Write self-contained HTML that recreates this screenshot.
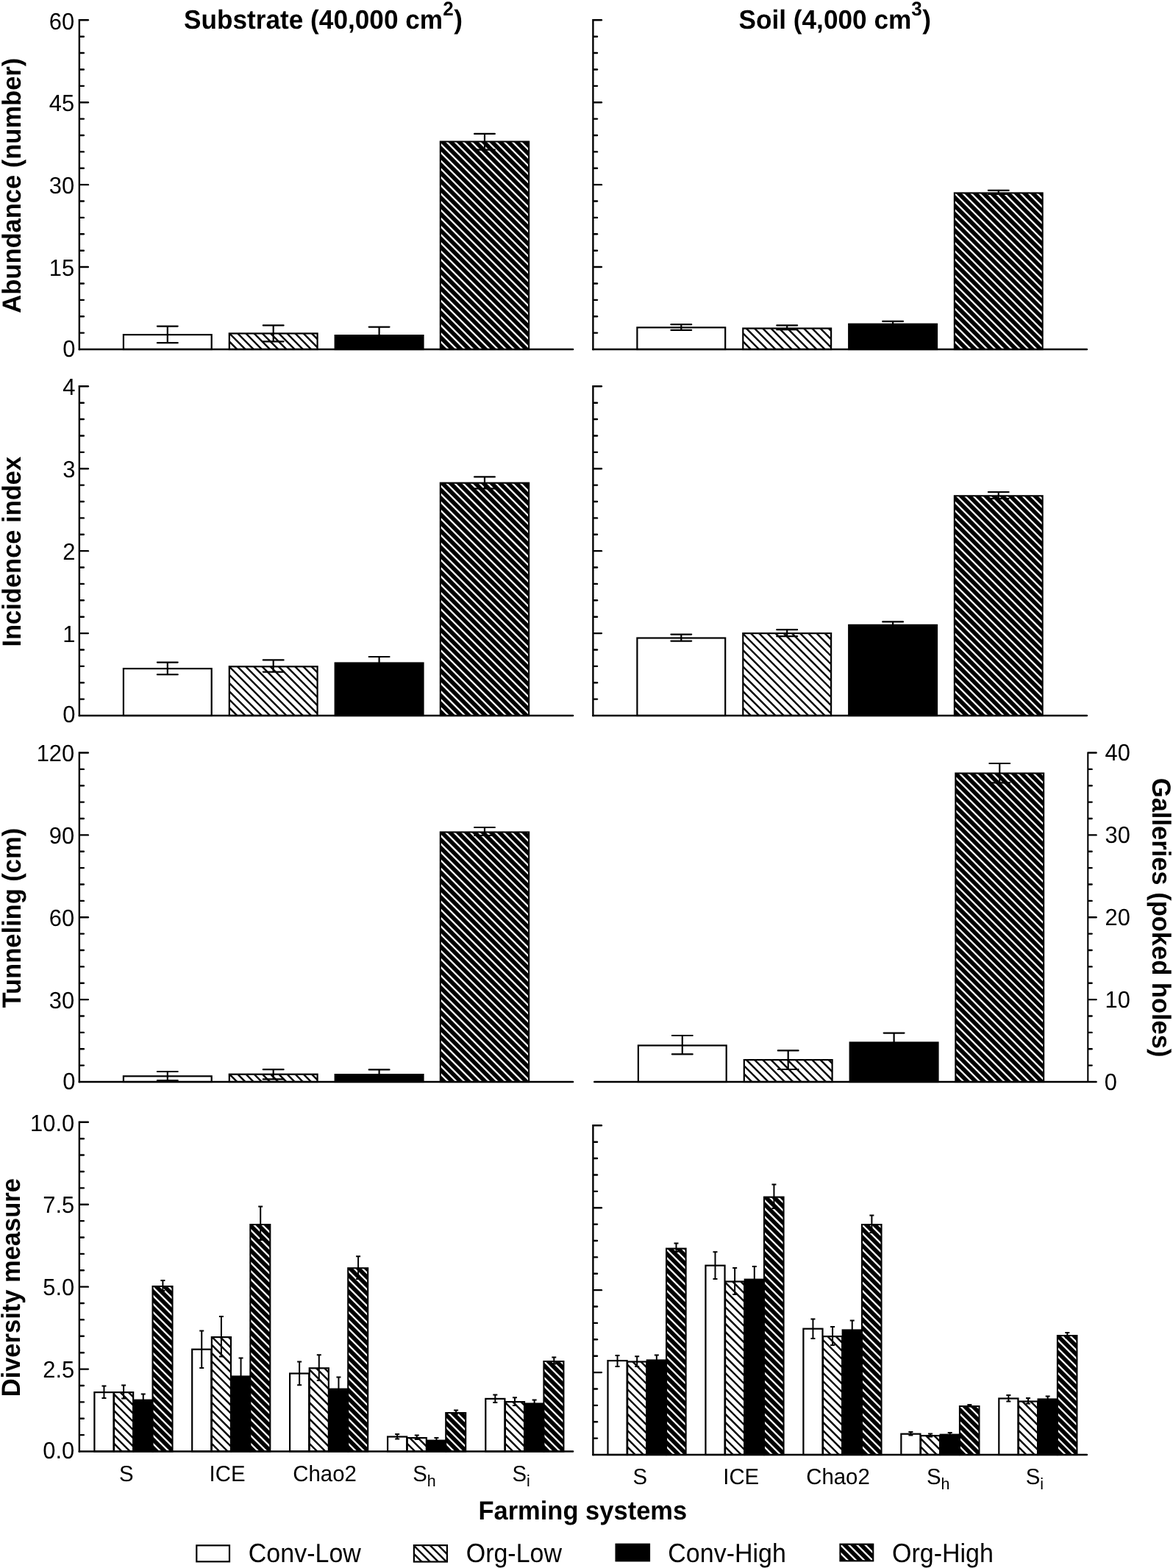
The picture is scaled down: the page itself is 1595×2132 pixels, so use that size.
<!DOCTYPE html>
<html lang="en">
<head>
<meta charset="utf-8">
<title>Farming systems figure</title>
<style>
html,body{margin:0;padding:0;background:#fff;}
body{width:1595px;height:2132px;overflow:hidden;}
svg{display:block;}
svg text{font-family:"Liberation Sans", sans-serif;fill:#000;text-rendering:geometricPrecision;}
</style>
</head>
<body>
<svg width="1595" height="2132" viewBox="0 0 1595 2132">
<rect width="1595" height="2132" fill="#fff"/>
<defs>
<clipPath id="c1"><rect x="311.8" y="453.4" width="119.8" height="21.6"/></clipPath>
<clipPath id="c2"><rect x="599.85" y="193.6" width="118.25" height="280.4"/></clipPath>
<clipPath id="c3"><rect x="1010.3" y="446.5" width="119.8" height="28.5"/></clipPath>
<clipPath id="c4"><rect x="1298.9" y="263.5" width="117.7" height="210.5"/></clipPath>
<clipPath id="c5"><rect x="311.8" y="906.3" width="119.8" height="66.7"/></clipPath>
<clipPath id="c6"><rect x="599.85" y="657.7" width="118.25" height="314.3"/></clipPath>
<clipPath id="c7"><rect x="1010.3" y="861.1" width="119.8" height="111.9"/></clipPath>
<clipPath id="c8"><rect x="1298.9" y="675.3" width="117.7" height="296.7"/></clipPath>
<clipPath id="c9"><rect x="311.8" y="1460.7" width="119.8" height="10.3"/></clipPath>
<clipPath id="c10"><rect x="599.85" y="1132.5" width="118.25" height="337.5"/></clipPath>
<clipPath id="c11"><rect x="1011.8" y="1441.1" width="119.8" height="29.9"/></clipPath>
<clipPath id="c12"><rect x="1300.4" y="1052.5" width="117.7" height="417.5"/></clipPath>
<clipPath id="c13"><rect x="155.05" y="1893.1" width="26.1" height="80.4"/></clipPath>
<clipPath id="c14"><rect x="208.6" y="1750.1" width="24.85" height="222.4"/></clipPath>
<clipPath id="c15"><rect x="287.85" y="1818.1" width="26.1" height="155.4"/></clipPath>
<clipPath id="c16"><rect x="341.4" y="1666.1" width="24.85" height="306.4"/></clipPath>
<clipPath id="c17"><rect x="420.75" y="1860.3" width="26.1" height="113.2"/></clipPath>
<clipPath id="c18"><rect x="474.3" y="1725.3" width="24.85" height="247.2"/></clipPath>
<clipPath id="c19"><rect x="553.75" y="1955.1" width="26.1" height="18.4"/></clipPath>
<clipPath id="c20"><rect x="607.3" y="1922.1" width="24.85" height="50.4"/></clipPath>
<clipPath id="c21"><rect x="686.95" y="1906.1" width="26.1" height="67.4"/></clipPath>
<clipPath id="c22"><rect x="740.5" y="1852.1" width="24.85" height="120.4"/></clipPath>
<clipPath id="c23"><rect x="853.15" y="1851.5" width="26.1" height="126.5"/></clipPath>
<clipPath id="c24"><rect x="907.15" y="1698.7" width="24.4" height="278.3"/></clipPath>
<clipPath id="c25"><rect x="986.1" y="1742.5" width="26.1" height="235.5"/></clipPath>
<clipPath id="c26"><rect x="1040.1" y="1628.7" width="24.4" height="348.3"/></clipPath>
<clipPath id="c27"><rect x="1119.05" y="1817.1" width="26.1" height="160.9"/></clipPath>
<clipPath id="c28"><rect x="1173.05" y="1666.1" width="24.4" height="310.9"/></clipPath>
<clipPath id="c29"><rect x="1252" y="1952.1" width="26.1" height="25.9"/></clipPath>
<clipPath id="c30"><rect x="1306" y="1913.1" width="24.4" height="63.9"/></clipPath>
<clipPath id="c31"><rect x="1384.95" y="1905.5" width="26.1" height="72.5"/></clipPath>
<clipPath id="c32"><rect x="1438.95" y="1817.1" width="24.4" height="159.9"/></clipPath>
<clipPath id="c33"><rect x="562.9" y="2101.1" width="45" height="22.4"/></clipPath>
<clipPath id="c34"><rect x="1143.5" y="2100.7" width="42.7" height="20.6"/></clipPath>
</defs>
<rect x="167.9" y="455.1" width="119.8" height="19.9" fill="#fff" stroke="#000" stroke-width="2.2"/>
<rect x="311.8" y="453.4" width="119.8" height="21.6" fill="#fff"/>
<path clip-path="url(#c1)" d="M307.8 471.55L315.25 479M307.8 460.37L326.44 479M308.02 449.4L337.62 479M319.21 449.4L348.81 479M330.39 449.4L359.99 479M341.58 449.4L371.18 479M352.76 449.4L382.36 479M363.95 449.4L393.55 479M375.13 449.4L404.73 479M386.32 449.4L415.92 479M397.5 449.4L427.1 479M408.69 449.4L435.6 476.31M419.87 449.4L435.6 465.13M431.06 449.4L435.6 453.94" stroke="#000" stroke-width="2.4" fill="none"/>
<rect x="311.8" y="453.4" width="119.8" height="21.6" fill="none" stroke="#000" stroke-width="2.2"/>
<rect x="455.7" y="456.1" width="119.8" height="18.9" fill="#000" stroke="#000" stroke-width="2.2"/>
<rect x="598.85" y="192.6" width="120.25" height="282.4" fill="#000" stroke="#000" stroke-width="2.2"/>
<path clip-path="url(#c2)" d="M594.85 471.15L602.7 479M594.85 459.97L613.88 479M594.85 448.78L625.07 479M594.85 437.6L636.25 479M594.85 426.41L647.44 479M594.85 415.23L658.62 479M594.85 404.04L669.81 479M594.85 392.86L681 479M594.85 381.67L692.18 479M594.85 370.49L703.37 479M594.85 359.3L714.55 479M594.85 348.12L723.1 476.37M594.85 336.93L723.1 465.18M594.85 325.75L723.1 454M594.85 314.56L723.1 442.81M594.85 303.38L723.1 431.62M594.85 292.19L723.1 420.44M594.85 281L723.1 409.25M594.85 269.82L723.1 398.07M594.85 258.63L723.1 386.88M594.85 247.45L723.1 375.7M594.85 236.26L723.1 364.51M594.85 225.08L723.1 353.33M594.85 213.9L723.1 342.15M594.85 202.71L723.1 330.96M594.85 191.53L723.1 319.77M603.11 188.6L723.1 308.59M614.29 188.6L723.1 297.41M625.48 188.6L723.1 286.22M636.66 188.6L723.1 275.03M647.85 188.6L723.1 263.85M659.03 188.6L723.1 252.67M670.22 188.6L723.1 241.48M681.4 188.6L723.1 230.29M692.59 188.6L723.1 219.11M703.78 188.6L723.1 207.92M714.96 188.6L723.1 196.74" stroke="#fff" stroke-width="2.3" fill="none"/>
<path d="M213.9 443.6H241.7M227.8 443.6V466.2M213.9 466.2H241.7" stroke="#000" stroke-width="2.2" stroke-linecap="round" fill="none"/>
<path d="M357.8 442.4H385.6M371.7 442.4V464.3M357.8 464.3H385.6" stroke="#000" stroke-width="2.2" stroke-linecap="round" fill="none"/>
<path d="M501.7 444.6H529.5M515.6 444.6V456" stroke="#000" stroke-width="2.2" stroke-linecap="round" fill="none"/>
<path d="M645.08 181.9H672.88M658.98 181.9V203.6M645.08 203.6H672.88" stroke="#000" stroke-width="2.2" stroke-linecap="round" fill="none"/>
<rect x="866.4" y="445.3" width="119.8" height="29.7" fill="#fff" stroke="#000" stroke-width="2.2"/>
<rect x="1010.3" y="446.5" width="119.8" height="28.5" fill="#fff"/>
<path clip-path="url(#c3)" d="M1006.3 471.55L1013.75 479M1006.3 460.37L1024.93 479M1006.3 449.18L1036.12 479M1010.8 442.5L1047.3 479M1021.99 442.5L1058.49 479M1033.17 442.5L1069.67 479M1044.36 442.5L1080.86 479M1055.54 442.5L1092.04 479M1066.73 442.5L1103.23 479M1077.91 442.5L1114.41 479M1089.1 442.5L1125.6 479M1100.28 442.5L1134.1 476.32M1111.47 442.5L1134.1 465.13M1122.65 442.5L1134.1 453.95M1133.84 442.5L1134.1 442.76" stroke="#000" stroke-width="2.4" fill="none"/>
<rect x="1010.3" y="446.5" width="119.8" height="28.5" fill="none" stroke="#000" stroke-width="2.2"/>
<rect x="1154.2" y="440.7" width="119.8" height="34.3" fill="#000" stroke="#000" stroke-width="2.2"/>
<rect x="1297.9" y="262.5" width="119.7" height="212.5" fill="#000" stroke="#000" stroke-width="2.2"/>
<path clip-path="url(#c4)" d="M1293.9 471.15L1301.75 479M1293.9 459.96L1312.93 479M1293.9 448.78L1324.12 479M1293.9 437.6L1335.3 479M1293.9 426.41L1346.49 479M1293.9 415.22L1357.67 479M1293.9 404.04L1368.86 479M1293.9 392.85L1380.05 479M1293.9 381.67L1391.23 479M1293.9 370.48L1402.41 479M1293.9 359.3L1413.6 479M1293.9 348.12L1421.6 475.82M1293.9 336.93L1421.6 464.63M1293.9 325.74L1421.6 453.44M1293.9 314.56L1421.6 442.26M1293.9 303.37L1421.6 431.07M1293.9 292.19L1421.6 419.89M1293.9 281L1421.6 408.7M1293.9 269.82L1421.6 397.52M1293.9 258.63L1421.6 386.33M1304.95 258.5L1421.6 375.15M1316.13 258.5L1421.6 363.96M1327.32 258.5L1421.6 352.78M1338.51 258.5L1421.6 341.59M1349.69 258.5L1421.6 330.41M1360.88 258.5L1421.6 319.22M1372.06 258.5L1421.6 308.04M1383.24 258.5L1421.6 296.86M1394.43 258.5L1421.6 285.67M1405.62 258.5L1421.6 274.48M1416.8 258.5L1421.6 263.3" stroke="#fff" stroke-width="2.3" fill="none"/>
<path d="M912.4 441.2H940.2M926.3 441.2V448.8M912.4 448.8H940.2" stroke="#000" stroke-width="2.2" stroke-linecap="round" fill="none"/>
<path d="M1056.3 442.4H1084.1M1070.2 442.4V448.2M1056.3 448.2H1084.1" stroke="#000" stroke-width="2.2" stroke-linecap="round" fill="none"/>
<path d="M1200.2 436.8H1228M1214.1 436.8V440.6" stroke="#000" stroke-width="2.2" stroke-linecap="round" fill="none"/>
<path d="M1343.85 258.8H1371.65M1357.75 258.8V264M1343.85 264H1371.65" stroke="#000" stroke-width="2.2" stroke-linecap="round" fill="none"/>
<line x1="107.85" y1="475" x2="779.1" y2="475" stroke="#000" stroke-width="2.4" stroke-linecap="round"/>
<line x1="806.4" y1="475" x2="1477.9" y2="475" stroke="#000" stroke-width="2.4" stroke-linecap="round"/>
<line x1="107.85" y1="27.3" x2="107.85" y2="475" stroke="#000" stroke-width="2.4" stroke-linecap="square"/>
<line x1="109.05" y1="27.3" x2="119.85" y2="27.3" stroke="#000" stroke-width="2.4" stroke-linecap="round"/>
<line x1="109.05" y1="49.69" x2="113.85" y2="49.69" stroke="#000" stroke-width="2.4" stroke-linecap="round"/>
<line x1="109.05" y1="72.07" x2="113.85" y2="72.07" stroke="#000" stroke-width="2.4" stroke-linecap="round"/>
<line x1="109.05" y1="94.45" x2="113.85" y2="94.45" stroke="#000" stroke-width="2.4" stroke-linecap="round"/>
<line x1="109.05" y1="116.84" x2="113.85" y2="116.84" stroke="#000" stroke-width="2.4" stroke-linecap="round"/>
<line x1="109.05" y1="139.22" x2="119.85" y2="139.22" stroke="#000" stroke-width="2.4" stroke-linecap="round"/>
<line x1="109.05" y1="161.61" x2="113.85" y2="161.61" stroke="#000" stroke-width="2.4" stroke-linecap="round"/>
<line x1="109.05" y1="184" x2="113.85" y2="184" stroke="#000" stroke-width="2.4" stroke-linecap="round"/>
<line x1="109.05" y1="206.38" x2="113.85" y2="206.38" stroke="#000" stroke-width="2.4" stroke-linecap="round"/>
<line x1="109.05" y1="228.76" x2="113.85" y2="228.76" stroke="#000" stroke-width="2.4" stroke-linecap="round"/>
<line x1="109.05" y1="251.15" x2="119.85" y2="251.15" stroke="#000" stroke-width="2.4" stroke-linecap="round"/>
<line x1="109.05" y1="273.53" x2="113.85" y2="273.53" stroke="#000" stroke-width="2.4" stroke-linecap="round"/>
<line x1="109.05" y1="295.92" x2="113.85" y2="295.92" stroke="#000" stroke-width="2.4" stroke-linecap="round"/>
<line x1="109.05" y1="318.31" x2="113.85" y2="318.31" stroke="#000" stroke-width="2.4" stroke-linecap="round"/>
<line x1="109.05" y1="340.69" x2="113.85" y2="340.69" stroke="#000" stroke-width="2.4" stroke-linecap="round"/>
<line x1="109.05" y1="363.07" x2="119.85" y2="363.07" stroke="#000" stroke-width="2.4" stroke-linecap="round"/>
<line x1="109.05" y1="385.46" x2="113.85" y2="385.46" stroke="#000" stroke-width="2.4" stroke-linecap="round"/>
<line x1="109.05" y1="407.84" x2="113.85" y2="407.84" stroke="#000" stroke-width="2.4" stroke-linecap="round"/>
<line x1="109.05" y1="430.23" x2="113.85" y2="430.23" stroke="#000" stroke-width="2.4" stroke-linecap="round"/>
<line x1="109.05" y1="452.61" x2="113.85" y2="452.61" stroke="#000" stroke-width="2.4" stroke-linecap="round"/>
<text transform="translate(101.2 39.9) scale(0.9709 1)" font-size="31.83" text-anchor="end">60</text>
<text transform="translate(101.2 151.03) scale(0.9709 1)" font-size="31.83" text-anchor="end">45</text>
<text transform="translate(101.2 262.85) scale(0.9709 1)" font-size="31.83" text-anchor="end">30</text>
<text transform="translate(101.2 374.88) scale(0.9709 1)" font-size="31.83" text-anchor="end">15</text>
<text transform="translate(102.4 484.5) scale(0.9709 1)" font-size="31.83" text-anchor="end">0</text>
<line x1="806.4" y1="27.3" x2="806.4" y2="475" stroke="#000" stroke-width="2.4" stroke-linecap="square"/>
<line x1="807.6" y1="27.3" x2="817.9" y2="27.3" stroke="#000" stroke-width="2.4" stroke-linecap="round"/>
<line x1="807.6" y1="49.69" x2="812" y2="49.69" stroke="#000" stroke-width="2.4" stroke-linecap="round"/>
<line x1="807.6" y1="72.07" x2="812" y2="72.07" stroke="#000" stroke-width="2.4" stroke-linecap="round"/>
<line x1="807.6" y1="94.45" x2="812" y2="94.45" stroke="#000" stroke-width="2.4" stroke-linecap="round"/>
<line x1="807.6" y1="116.84" x2="812" y2="116.84" stroke="#000" stroke-width="2.4" stroke-linecap="round"/>
<line x1="807.6" y1="139.22" x2="817.9" y2="139.22" stroke="#000" stroke-width="2.4" stroke-linecap="round"/>
<line x1="807.6" y1="161.61" x2="812" y2="161.61" stroke="#000" stroke-width="2.4" stroke-linecap="round"/>
<line x1="807.6" y1="184" x2="812" y2="184" stroke="#000" stroke-width="2.4" stroke-linecap="round"/>
<line x1="807.6" y1="206.38" x2="812" y2="206.38" stroke="#000" stroke-width="2.4" stroke-linecap="round"/>
<line x1="807.6" y1="228.76" x2="812" y2="228.76" stroke="#000" stroke-width="2.4" stroke-linecap="round"/>
<line x1="807.6" y1="251.15" x2="817.9" y2="251.15" stroke="#000" stroke-width="2.4" stroke-linecap="round"/>
<line x1="807.6" y1="273.53" x2="812" y2="273.53" stroke="#000" stroke-width="2.4" stroke-linecap="round"/>
<line x1="807.6" y1="295.92" x2="812" y2="295.92" stroke="#000" stroke-width="2.4" stroke-linecap="round"/>
<line x1="807.6" y1="318.31" x2="812" y2="318.31" stroke="#000" stroke-width="2.4" stroke-linecap="round"/>
<line x1="807.6" y1="340.69" x2="812" y2="340.69" stroke="#000" stroke-width="2.4" stroke-linecap="round"/>
<line x1="807.6" y1="363.07" x2="817.9" y2="363.07" stroke="#000" stroke-width="2.4" stroke-linecap="round"/>
<line x1="807.6" y1="385.46" x2="812" y2="385.46" stroke="#000" stroke-width="2.4" stroke-linecap="round"/>
<line x1="807.6" y1="407.84" x2="812" y2="407.84" stroke="#000" stroke-width="2.4" stroke-linecap="round"/>
<line x1="807.6" y1="430.23" x2="812" y2="430.23" stroke="#000" stroke-width="2.4" stroke-linecap="round"/>
<line x1="807.6" y1="452.61" x2="812" y2="452.61" stroke="#000" stroke-width="2.4" stroke-linecap="round"/>
<rect x="167.9" y="909.1" width="119.8" height="63.9" fill="#fff" stroke="#000" stroke-width="2.2"/>
<rect x="311.8" y="906.3" width="119.8" height="66.7" fill="#fff"/>
<path clip-path="url(#c5)" d="M307.8 969.55L315.25 977M307.8 958.37L326.43 977M307.8 947.18L337.62 977M307.8 936L348.8 977M307.8 924.81L359.99 977M307.8 913.63L371.17 977M307.8 902.44L382.36 977M318.85 902.3L393.54 977M330.03 902.3L404.73 977M341.22 902.3L415.91 977M352.4 902.3L427.1 977M363.59 902.3L435.6 974.32M374.77 902.3L435.6 963.13M385.96 902.3L435.6 951.95M397.14 902.3L435.6 940.76M408.33 902.3L435.6 929.58M419.51 902.3L435.6 918.39M430.7 902.3L435.6 907.21" stroke="#000" stroke-width="2.4" fill="none"/>
<rect x="311.8" y="906.3" width="119.8" height="66.7" fill="none" stroke="#000" stroke-width="2.2"/>
<rect x="455.7" y="901.5" width="119.8" height="71.5" fill="#000" stroke="#000" stroke-width="2.2"/>
<rect x="598.85" y="656.7" width="120.25" height="316.3" fill="#000" stroke="#000" stroke-width="2.2"/>
<path clip-path="url(#c6)" d="M594.85 969.15L602.7 977M594.85 957.97L613.88 977M594.85 946.78L625.07 977M594.85 935.6L636.25 977M594.85 924.41L647.44 977M594.85 913.23L658.62 977M594.85 902.04L669.81 977M594.85 890.86L681 977M594.85 879.67L692.18 977M594.85 868.49L703.37 977M594.85 857.3L714.55 977M594.85 846.12L723.1 974.37M594.85 834.93L723.1 963.18M594.85 823.75L723.1 952M594.85 812.56L723.1 940.81M594.85 801.38L723.1 929.62M594.85 790.19L723.1 918.44M594.85 779L723.1 907.25M594.85 767.82L723.1 896.07M594.85 756.63L723.1 884.88M594.85 745.45L723.1 873.7M594.85 734.26L723.1 862.51M594.85 723.08L723.1 851.33M594.85 711.9L723.1 840.15M594.85 700.71L723.1 828.96M594.85 689.52L723.1 817.77M594.85 678.34L723.1 806.59M594.85 667.16L723.1 795.41M594.85 655.97L723.1 784.22M602.77 652.7L723.1 773.03M613.95 652.7L723.1 761.85M625.13 652.7L723.1 750.67M636.32 652.7L723.1 739.48M647.51 652.7L723.1 728.29M658.69 652.7L723.1 717.11M669.88 652.7L723.1 705.93M681.06 652.7L723.1 694.74M692.25 652.7L723.1 683.55M703.43 652.7L723.1 672.37M714.62 652.7L723.1 661.19" stroke="#fff" stroke-width="2.3" fill="none"/>
<path d="M213.9 900.6H241.7M227.8 900.6V917.2M213.9 917.2H241.7" stroke="#000" stroke-width="2.2" stroke-linecap="round" fill="none"/>
<path d="M357.8 897.4H385.6M371.7 897.4V913.6M357.8 913.6H385.6" stroke="#000" stroke-width="2.2" stroke-linecap="round" fill="none"/>
<path d="M501.7 893H529.5M515.6 893V901.4" stroke="#000" stroke-width="2.2" stroke-linecap="round" fill="none"/>
<path d="M645.08 648.4H672.88M658.98 648.4V664.4M645.08 664.4H672.88" stroke="#000" stroke-width="2.2" stroke-linecap="round" fill="none"/>
<rect x="866.4" y="867.5" width="119.8" height="105.5" fill="#fff" stroke="#000" stroke-width="2.2"/>
<rect x="1010.3" y="861.1" width="119.8" height="111.9" fill="#fff"/>
<path clip-path="url(#c7)" d="M1006.3 969.55L1013.75 977M1006.3 958.37L1024.93 977M1006.3 947.18L1036.12 977M1006.3 936L1047.3 977M1006.3 924.81L1058.49 977M1006.3 913.62L1069.67 977M1006.3 902.44L1080.86 977M1006.3 891.25L1092.04 977M1006.3 880.07L1103.23 977M1006.3 868.88L1114.41 977M1006.3 857.7L1125.6 977M1016.88 857.1L1134.1 974.32M1028.07 857.1L1134.1 963.13M1039.25 857.1L1134.1 951.94M1050.44 857.1L1134.1 940.76M1061.62 857.1L1134.1 929.58M1072.81 857.1L1134.1 918.39M1083.99 857.1L1134.1 907.2M1095.18 857.1L1134.1 896.02M1106.37 857.1L1134.1 884.84M1117.55 857.1L1134.1 873.65M1128.73 857.1L1134.1 862.46" stroke="#000" stroke-width="2.4" fill="none"/>
<rect x="1010.3" y="861.1" width="119.8" height="111.9" fill="none" stroke="#000" stroke-width="2.2"/>
<rect x="1154.2" y="849.9" width="119.8" height="123.1" fill="#000" stroke="#000" stroke-width="2.2"/>
<rect x="1297.9" y="674.3" width="119.7" height="298.7" fill="#000" stroke="#000" stroke-width="2.2"/>
<path clip-path="url(#c8)" d="M1293.9 969.15L1301.75 977M1293.9 957.96L1312.93 977M1293.9 946.78L1324.12 977M1293.9 935.59L1335.3 977M1293.9 924.41L1346.49 977M1293.9 913.23L1357.67 977M1293.9 902.04L1368.86 977M1293.9 890.85L1380.05 977M1293.9 879.67L1391.23 977M1293.9 868.48L1402.41 977M1293.9 857.3L1413.6 977M1293.9 846.11L1421.6 973.82M1293.9 834.93L1421.6 962.63M1293.9 823.75L1421.6 951.44M1293.9 812.56L1421.6 940.26M1293.9 801.37L1421.6 929.07M1293.9 790.19L1421.6 917.89M1293.9 779L1421.6 906.7M1293.9 767.82L1421.6 895.52M1293.9 756.63L1421.6 884.34M1293.9 745.45L1421.6 873.15M1293.9 734.26L1421.6 861.96M1293.9 723.08L1421.6 850.78M1293.9 711.9L1421.6 839.6M1293.9 700.71L1421.6 828.41M1293.9 689.52L1421.6 817.22M1293.9 678.34L1421.6 806.04M1297.05 670.3L1421.6 794.86M1308.23 670.3L1421.6 783.67M1319.41 670.3L1421.6 772.48M1330.6 670.3L1421.6 761.3M1341.78 670.3L1421.6 750.12M1352.97 670.3L1421.6 738.93M1364.16 670.3L1421.6 727.74M1375.34 670.3L1421.6 716.56M1386.53 670.3L1421.6 705.38M1397.71 670.3L1421.6 694.19M1408.89 670.3L1421.6 683M1420.08 670.3L1421.6 671.82" stroke="#fff" stroke-width="2.3" fill="none"/>
<path d="M912.4 862.6H940.2M926.3 862.6V871.6M912.4 871.6H940.2" stroke="#000" stroke-width="2.2" stroke-linecap="round" fill="none"/>
<path d="M1056.3 856.2H1084.1M1070.2 856.2V865.2M1056.3 865.2H1084.1" stroke="#000" stroke-width="2.2" stroke-linecap="round" fill="none"/>
<path d="M1200.2 845.4H1228M1214.1 845.4V849.8" stroke="#000" stroke-width="2.2" stroke-linecap="round" fill="none"/>
<path d="M1343.85 669H1371.65M1357.75 669V678M1343.85 678H1371.65" stroke="#000" stroke-width="2.2" stroke-linecap="round" fill="none"/>
<line x1="107.85" y1="973" x2="779.1" y2="973" stroke="#000" stroke-width="2.4" stroke-linecap="round"/>
<line x1="806.4" y1="973" x2="1477.9" y2="973" stroke="#000" stroke-width="2.4" stroke-linecap="round"/>
<line x1="107.85" y1="525.3" x2="107.85" y2="973" stroke="#000" stroke-width="2.4" stroke-linecap="square"/>
<line x1="109.05" y1="525.3" x2="119.85" y2="525.3" stroke="#000" stroke-width="2.4" stroke-linecap="round"/>
<line x1="109.05" y1="547.68" x2="113.85" y2="547.68" stroke="#000" stroke-width="2.4" stroke-linecap="round"/>
<line x1="109.05" y1="570.07" x2="113.85" y2="570.07" stroke="#000" stroke-width="2.4" stroke-linecap="round"/>
<line x1="109.05" y1="592.45" x2="113.85" y2="592.45" stroke="#000" stroke-width="2.4" stroke-linecap="round"/>
<line x1="109.05" y1="614.84" x2="113.85" y2="614.84" stroke="#000" stroke-width="2.4" stroke-linecap="round"/>
<line x1="109.05" y1="637.22" x2="119.85" y2="637.22" stroke="#000" stroke-width="2.4" stroke-linecap="round"/>
<line x1="109.05" y1="659.61" x2="113.85" y2="659.61" stroke="#000" stroke-width="2.4" stroke-linecap="round"/>
<line x1="109.05" y1="682" x2="113.85" y2="682" stroke="#000" stroke-width="2.4" stroke-linecap="round"/>
<line x1="109.05" y1="704.38" x2="113.85" y2="704.38" stroke="#000" stroke-width="2.4" stroke-linecap="round"/>
<line x1="109.05" y1="726.76" x2="113.85" y2="726.76" stroke="#000" stroke-width="2.4" stroke-linecap="round"/>
<line x1="109.05" y1="749.15" x2="119.85" y2="749.15" stroke="#000" stroke-width="2.4" stroke-linecap="round"/>
<line x1="109.05" y1="771.53" x2="113.85" y2="771.53" stroke="#000" stroke-width="2.4" stroke-linecap="round"/>
<line x1="109.05" y1="793.92" x2="113.85" y2="793.92" stroke="#000" stroke-width="2.4" stroke-linecap="round"/>
<line x1="109.05" y1="816.3" x2="113.85" y2="816.3" stroke="#000" stroke-width="2.4" stroke-linecap="round"/>
<line x1="109.05" y1="838.69" x2="113.85" y2="838.69" stroke="#000" stroke-width="2.4" stroke-linecap="round"/>
<line x1="109.05" y1="861.08" x2="119.85" y2="861.08" stroke="#000" stroke-width="2.4" stroke-linecap="round"/>
<line x1="109.05" y1="883.46" x2="113.85" y2="883.46" stroke="#000" stroke-width="2.4" stroke-linecap="round"/>
<line x1="109.05" y1="905.85" x2="113.85" y2="905.85" stroke="#000" stroke-width="2.4" stroke-linecap="round"/>
<line x1="109.05" y1="928.23" x2="113.85" y2="928.23" stroke="#000" stroke-width="2.4" stroke-linecap="round"/>
<line x1="109.05" y1="950.62" x2="113.85" y2="950.62" stroke="#000" stroke-width="2.4" stroke-linecap="round"/>
<text transform="translate(102.4 536.9) scale(0.9709 1)" font-size="31.83" text-anchor="end">4</text>
<text transform="translate(102.4 648.92) scale(0.9709 1)" font-size="31.83" text-anchor="end">3</text>
<text transform="translate(102.4 760.75) scale(0.9709 1)" font-size="31.83" text-anchor="end">2</text>
<text transform="translate(102.4 872.58) scale(0.9709 1)" font-size="31.83" text-anchor="end">1</text>
<text transform="translate(102.4 981.7) scale(0.9709 1)" font-size="31.83" text-anchor="end">0</text>
<line x1="806.4" y1="525.3" x2="806.4" y2="973" stroke="#000" stroke-width="2.4" stroke-linecap="square"/>
<line x1="807.6" y1="525.3" x2="817.9" y2="525.3" stroke="#000" stroke-width="2.4" stroke-linecap="round"/>
<line x1="807.6" y1="547.68" x2="812" y2="547.68" stroke="#000" stroke-width="2.4" stroke-linecap="round"/>
<line x1="807.6" y1="570.07" x2="812" y2="570.07" stroke="#000" stroke-width="2.4" stroke-linecap="round"/>
<line x1="807.6" y1="592.45" x2="812" y2="592.45" stroke="#000" stroke-width="2.4" stroke-linecap="round"/>
<line x1="807.6" y1="614.84" x2="812" y2="614.84" stroke="#000" stroke-width="2.4" stroke-linecap="round"/>
<line x1="807.6" y1="637.22" x2="817.9" y2="637.22" stroke="#000" stroke-width="2.4" stroke-linecap="round"/>
<line x1="807.6" y1="659.61" x2="812" y2="659.61" stroke="#000" stroke-width="2.4" stroke-linecap="round"/>
<line x1="807.6" y1="682" x2="812" y2="682" stroke="#000" stroke-width="2.4" stroke-linecap="round"/>
<line x1="807.6" y1="704.38" x2="812" y2="704.38" stroke="#000" stroke-width="2.4" stroke-linecap="round"/>
<line x1="807.6" y1="726.76" x2="812" y2="726.76" stroke="#000" stroke-width="2.4" stroke-linecap="round"/>
<line x1="807.6" y1="749.15" x2="817.9" y2="749.15" stroke="#000" stroke-width="2.4" stroke-linecap="round"/>
<line x1="807.6" y1="771.53" x2="812" y2="771.53" stroke="#000" stroke-width="2.4" stroke-linecap="round"/>
<line x1="807.6" y1="793.92" x2="812" y2="793.92" stroke="#000" stroke-width="2.4" stroke-linecap="round"/>
<line x1="807.6" y1="816.3" x2="812" y2="816.3" stroke="#000" stroke-width="2.4" stroke-linecap="round"/>
<line x1="807.6" y1="838.69" x2="812" y2="838.69" stroke="#000" stroke-width="2.4" stroke-linecap="round"/>
<line x1="807.6" y1="861.08" x2="817.9" y2="861.08" stroke="#000" stroke-width="2.4" stroke-linecap="round"/>
<line x1="807.6" y1="883.46" x2="812" y2="883.46" stroke="#000" stroke-width="2.4" stroke-linecap="round"/>
<line x1="807.6" y1="905.85" x2="812" y2="905.85" stroke="#000" stroke-width="2.4" stroke-linecap="round"/>
<line x1="807.6" y1="928.23" x2="812" y2="928.23" stroke="#000" stroke-width="2.4" stroke-linecap="round"/>
<line x1="807.6" y1="950.62" x2="812" y2="950.62" stroke="#000" stroke-width="2.4" stroke-linecap="round"/>
<rect x="167.9" y="1463.3" width="119.8" height="7.7" fill="#fff" stroke="#000" stroke-width="2.2"/>
<rect x="311.8" y="1460.7" width="119.8" height="10.3" fill="#fff"/>
<path clip-path="url(#c9)" d="M307.8 1467.55L315.25 1475M308.13 1456.7L326.43 1475M319.32 1456.7L337.62 1475M330.5 1456.7L348.81 1475M341.69 1456.7L359.99 1475M352.87 1456.7L371.17 1475M364.06 1456.7L382.36 1475M375.24 1456.7L393.55 1475M386.43 1456.7L404.73 1475M397.61 1456.7L415.91 1475M408.8 1456.7L427.1 1475M419.98 1456.7L435.6 1472.32M431.17 1456.7L435.6 1461.13" stroke="#000" stroke-width="2.4" fill="none"/>
<rect x="311.8" y="1460.7" width="119.8" height="10.3" fill="none" stroke="#000" stroke-width="2.2"/>
<rect x="455.7" y="1461.1" width="119.8" height="9.9" fill="#000" stroke="#000" stroke-width="2.2"/>
<rect x="598.85" y="1131.5" width="120.25" height="339.5" fill="#000" stroke="#000" stroke-width="2.2"/>
<path clip-path="url(#c10)" d="M594.85 1467.15L602.7 1475M594.85 1455.97L613.88 1475M594.85 1444.78L625.07 1475M594.85 1433.6L636.25 1475M594.85 1422.41L647.44 1475M594.85 1411.22L658.62 1475M594.85 1400.04L669.81 1475M594.85 1388.86L681 1475M594.85 1377.67L692.18 1475M594.85 1366.49L703.37 1475M594.85 1355.3L714.55 1475M594.85 1344.12L723.1 1472.37M594.85 1332.93L723.1 1461.18M594.85 1321.74L723.1 1449.99M594.85 1310.56L723.1 1438.81M594.85 1299.38L723.1 1427.62M594.85 1288.19L723.1 1416.44M594.85 1277.01L723.1 1405.26M594.85 1265.82L723.1 1394.07M594.85 1254.63L723.1 1382.88M594.85 1243.45L723.1 1371.7M594.85 1232.26L723.1 1360.51M594.85 1221.08L723.1 1349.33M594.85 1209.89L723.1 1338.14M594.85 1198.71L723.1 1326.96M594.85 1187.53L723.1 1315.78M594.85 1176.34L723.1 1304.59M594.85 1165.15L723.1 1293.4M594.85 1153.97L723.1 1282.22M594.85 1142.78L723.1 1271.03M594.85 1131.6L723.1 1259.85M601.94 1127.5L723.1 1248.66M613.12 1127.5L723.1 1237.48M624.31 1127.5L723.1 1226.3M635.49 1127.5L723.1 1215.11M646.68 1127.5L723.1 1203.92M657.86 1127.5L723.1 1192.74M669.05 1127.5L723.1 1181.55M680.23 1127.5L723.1 1170.37M691.42 1127.5L723.1 1159.18M702.6 1127.5L723.1 1148M713.79 1127.5L723.1 1136.82" stroke="#fff" stroke-width="2.3" fill="none"/>
<path d="M213.9 1457H241.7M227.8 1457V1469.2M213.9 1469.2H241.7" stroke="#000" stroke-width="2.2" stroke-linecap="round" fill="none"/>
<path d="M357.8 1454.2H385.6M371.7 1454.2V1467.4M357.8 1467.4H385.6" stroke="#000" stroke-width="2.2" stroke-linecap="round" fill="none"/>
<path d="M501.7 1454.4H529.5M515.6 1454.4V1461" stroke="#000" stroke-width="2.2" stroke-linecap="round" fill="none"/>
<path d="M645.08 1125H672.88M658.98 1125V1136M645.08 1136H672.88" stroke="#000" stroke-width="2.2" stroke-linecap="round" fill="none"/>
<rect x="867.9" y="1421.5" width="119.8" height="49.5" fill="#fff" stroke="#000" stroke-width="2.2"/>
<rect x="1011.8" y="1441.1" width="119.8" height="29.9" fill="#fff"/>
<path clip-path="url(#c11)" d="M1007.8 1467.55L1015.25 1475M1007.8 1456.37L1026.43 1475M1007.8 1445.18L1037.62 1475M1010.9 1437.1L1048.8 1475M1022.09 1437.1L1059.99 1475M1033.27 1437.1L1071.17 1475M1044.46 1437.1L1082.36 1475M1055.64 1437.1L1093.55 1475M1066.83 1437.1L1104.73 1475M1078.01 1437.1L1115.91 1475M1089.2 1437.1L1127.1 1475M1100.38 1437.1L1135.6 1472.32M1111.57 1437.1L1135.6 1461.13M1122.75 1437.1L1135.6 1449.94M1133.94 1437.1L1135.6 1438.76" stroke="#000" stroke-width="2.4" fill="none"/>
<rect x="1011.8" y="1441.1" width="119.8" height="29.9" fill="none" stroke="#000" stroke-width="2.2"/>
<rect x="1155.7" y="1417.5" width="119.8" height="53.5" fill="#000" stroke="#000" stroke-width="2.2"/>
<rect x="1299.4" y="1051.5" width="119.7" height="419.5" fill="#000" stroke="#000" stroke-width="2.2"/>
<path clip-path="url(#c12)" d="M1295.4 1467.15L1303.25 1475M1295.4 1455.96L1314.43 1475M1295.4 1444.78L1325.62 1475M1295.4 1433.59L1336.8 1475M1295.4 1422.41L1347.99 1475M1295.4 1411.22L1359.17 1475M1295.4 1400.04L1370.36 1475M1295.4 1388.86L1381.54 1475M1295.4 1377.67L1392.73 1475M1295.4 1366.48L1403.91 1475M1295.4 1355.3L1415.1 1475M1295.4 1344.11L1423.1 1471.82M1295.4 1332.93L1423.1 1460.63M1295.4 1321.74L1423.1 1449.44M1295.4 1310.56L1423.1 1438.26M1295.4 1299.38L1423.1 1427.08M1295.4 1288.19L1423.1 1415.89M1295.4 1277L1423.1 1404.7M1295.4 1265.82L1423.1 1393.52M1295.4 1254.63L1423.1 1382.34M1295.4 1243.45L1423.1 1371.15M1295.4 1232.26L1423.1 1359.96M1295.4 1221.08L1423.1 1348.78M1295.4 1209.89L1423.1 1337.6M1295.4 1198.71L1423.1 1326.41M1295.4 1187.52L1423.1 1315.22M1295.4 1176.34L1423.1 1304.04M1295.4 1165.15L1423.1 1292.86M1295.4 1153.97L1423.1 1281.67M1295.4 1142.78L1423.1 1270.48M1295.4 1131.6L1423.1 1259.3M1295.4 1120.41L1423.1 1248.12M1295.4 1109.23L1423.1 1236.93M1295.4 1098.04L1423.1 1225.74M1295.4 1086.86L1423.1 1214.56M1295.4 1075.67L1423.1 1203.38M1295.4 1064.49L1423.1 1192.19M1295.4 1053.3L1423.1 1181M1300.78 1047.5L1423.1 1169.82M1311.96 1047.5L1423.1 1158.63M1323.15 1047.5L1423.1 1147.45M1334.34 1047.5L1423.1 1136.26M1345.52 1047.5L1423.1 1125.08M1356.7 1047.5L1423.1 1113.89M1367.89 1047.5L1423.1 1102.71M1379.08 1047.5L1423.1 1091.52M1390.26 1047.5L1423.1 1080.34M1401.44 1047.5L1423.1 1069.15M1412.63 1047.5L1423.1 1057.97" stroke="#fff" stroke-width="2.3" fill="none"/>
<path d="M913.9 1408H941.7M927.8 1408V1433.4M913.9 1433.4H941.7" stroke="#000" stroke-width="2.2" stroke-linecap="round" fill="none"/>
<path d="M1057.8 1428.4H1085.6M1071.7 1428.4V1454M1057.8 1454H1085.6" stroke="#000" stroke-width="2.2" stroke-linecap="round" fill="none"/>
<path d="M1201.7 1404.6H1229.5M1215.6 1404.6V1417.4" stroke="#000" stroke-width="2.2" stroke-linecap="round" fill="none"/>
<path d="M1345.35 1038H1373.15M1359.25 1038V1064.4M1345.35 1064.4H1373.15" stroke="#000" stroke-width="2.2" stroke-linecap="round" fill="none"/>
<line x1="107.85" y1="1471" x2="779.1" y2="1471" stroke="#000" stroke-width="2.4" stroke-linecap="round"/>
<line x1="808.2" y1="1471" x2="1479.4" y2="1471" stroke="#000" stroke-width="2.4" stroke-linecap="round"/>
<line x1="107.85" y1="1023.5" x2="107.85" y2="1471" stroke="#000" stroke-width="2.4" stroke-linecap="square"/>
<line x1="109.05" y1="1023.5" x2="119.85" y2="1023.5" stroke="#000" stroke-width="2.4" stroke-linecap="round"/>
<line x1="109.05" y1="1045.88" x2="113.85" y2="1045.88" stroke="#000" stroke-width="2.4" stroke-linecap="round"/>
<line x1="109.05" y1="1068.25" x2="113.85" y2="1068.25" stroke="#000" stroke-width="2.4" stroke-linecap="round"/>
<line x1="109.05" y1="1090.62" x2="113.85" y2="1090.62" stroke="#000" stroke-width="2.4" stroke-linecap="round"/>
<line x1="109.05" y1="1113" x2="113.85" y2="1113" stroke="#000" stroke-width="2.4" stroke-linecap="round"/>
<line x1="109.05" y1="1135.38" x2="119.85" y2="1135.38" stroke="#000" stroke-width="2.4" stroke-linecap="round"/>
<line x1="109.05" y1="1157.75" x2="113.85" y2="1157.75" stroke="#000" stroke-width="2.4" stroke-linecap="round"/>
<line x1="109.05" y1="1180.12" x2="113.85" y2="1180.12" stroke="#000" stroke-width="2.4" stroke-linecap="round"/>
<line x1="109.05" y1="1202.5" x2="113.85" y2="1202.5" stroke="#000" stroke-width="2.4" stroke-linecap="round"/>
<line x1="109.05" y1="1224.88" x2="113.85" y2="1224.88" stroke="#000" stroke-width="2.4" stroke-linecap="round"/>
<line x1="109.05" y1="1247.25" x2="119.85" y2="1247.25" stroke="#000" stroke-width="2.4" stroke-linecap="round"/>
<line x1="109.05" y1="1269.62" x2="113.85" y2="1269.62" stroke="#000" stroke-width="2.4" stroke-linecap="round"/>
<line x1="109.05" y1="1292" x2="113.85" y2="1292" stroke="#000" stroke-width="2.4" stroke-linecap="round"/>
<line x1="109.05" y1="1314.38" x2="113.85" y2="1314.38" stroke="#000" stroke-width="2.4" stroke-linecap="round"/>
<line x1="109.05" y1="1336.75" x2="113.85" y2="1336.75" stroke="#000" stroke-width="2.4" stroke-linecap="round"/>
<line x1="109.05" y1="1359.12" x2="119.85" y2="1359.12" stroke="#000" stroke-width="2.4" stroke-linecap="round"/>
<line x1="109.05" y1="1381.5" x2="113.85" y2="1381.5" stroke="#000" stroke-width="2.4" stroke-linecap="round"/>
<line x1="109.05" y1="1403.88" x2="113.85" y2="1403.88" stroke="#000" stroke-width="2.4" stroke-linecap="round"/>
<line x1="109.05" y1="1426.25" x2="113.85" y2="1426.25" stroke="#000" stroke-width="2.4" stroke-linecap="round"/>
<line x1="109.05" y1="1448.62" x2="113.85" y2="1448.62" stroke="#000" stroke-width="2.4" stroke-linecap="round"/>
<text transform="translate(101.2 1035.2) scale(0.9709 1)" font-size="31.83" text-anchor="end">120</text>
<text transform="translate(101.2 1147.28) scale(0.9709 1)" font-size="31.83" text-anchor="end">90</text>
<text transform="translate(101.2 1258.95) scale(0.9709 1)" font-size="31.83" text-anchor="end">60</text>
<text transform="translate(101.2 1370.92) scale(0.9709 1)" font-size="31.83" text-anchor="end">30</text>
<text transform="translate(102.4 1480.5) scale(0.9709 1)" font-size="31.83" text-anchor="end">0</text>
<line x1="1479.3" y1="1023.5" x2="1479.3" y2="1471" stroke="#000" stroke-width="2.1" stroke-linecap="square"/>
<line x1="1480.35" y1="1023.5" x2="1490.6" y2="1023.5" stroke="#000" stroke-width="2.4" stroke-linecap="round"/>
<line x1="1480.35" y1="1045.88" x2="1484.6" y2="1045.88" stroke="#000" stroke-width="2.4" stroke-linecap="round"/>
<line x1="1480.35" y1="1068.25" x2="1484.6" y2="1068.25" stroke="#000" stroke-width="2.4" stroke-linecap="round"/>
<line x1="1480.35" y1="1090.62" x2="1484.6" y2="1090.62" stroke="#000" stroke-width="2.4" stroke-linecap="round"/>
<line x1="1480.35" y1="1113" x2="1484.6" y2="1113" stroke="#000" stroke-width="2.4" stroke-linecap="round"/>
<line x1="1480.35" y1="1135.38" x2="1490.6" y2="1135.38" stroke="#000" stroke-width="2.4" stroke-linecap="round"/>
<line x1="1480.35" y1="1157.75" x2="1484.6" y2="1157.75" stroke="#000" stroke-width="2.4" stroke-linecap="round"/>
<line x1="1480.35" y1="1180.12" x2="1484.6" y2="1180.12" stroke="#000" stroke-width="2.4" stroke-linecap="round"/>
<line x1="1480.35" y1="1202.5" x2="1484.6" y2="1202.5" stroke="#000" stroke-width="2.4" stroke-linecap="round"/>
<line x1="1480.35" y1="1224.88" x2="1484.6" y2="1224.88" stroke="#000" stroke-width="2.4" stroke-linecap="round"/>
<line x1="1480.35" y1="1247.25" x2="1490.6" y2="1247.25" stroke="#000" stroke-width="2.4" stroke-linecap="round"/>
<line x1="1480.35" y1="1269.62" x2="1484.6" y2="1269.62" stroke="#000" stroke-width="2.4" stroke-linecap="round"/>
<line x1="1480.35" y1="1292" x2="1484.6" y2="1292" stroke="#000" stroke-width="2.4" stroke-linecap="round"/>
<line x1="1480.35" y1="1314.38" x2="1484.6" y2="1314.38" stroke="#000" stroke-width="2.4" stroke-linecap="round"/>
<line x1="1480.35" y1="1336.75" x2="1484.6" y2="1336.75" stroke="#000" stroke-width="2.4" stroke-linecap="round"/>
<line x1="1480.35" y1="1359.12" x2="1490.6" y2="1359.12" stroke="#000" stroke-width="2.4" stroke-linecap="round"/>
<line x1="1480.35" y1="1381.5" x2="1484.6" y2="1381.5" stroke="#000" stroke-width="2.4" stroke-linecap="round"/>
<line x1="1480.35" y1="1403.88" x2="1484.6" y2="1403.88" stroke="#000" stroke-width="2.4" stroke-linecap="round"/>
<line x1="1480.35" y1="1426.25" x2="1484.6" y2="1426.25" stroke="#000" stroke-width="2.4" stroke-linecap="round"/>
<line x1="1480.35" y1="1448.62" x2="1484.6" y2="1448.62" stroke="#000" stroke-width="2.4" stroke-linecap="round"/>
<line x1="1480.35" y1="1471" x2="1490.6" y2="1471" stroke="#000" stroke-width="2.4" stroke-linecap="round"/>
<text transform="translate(1502.6 1034.35) scale(0.9709 1)" font-size="31.83" text-anchor="start">40</text>
<text transform="translate(1502.6 1146.17) scale(0.9709 1)" font-size="31.83" text-anchor="start">30</text>
<text transform="translate(1502.6 1258) scale(0.9709 1)" font-size="31.83" text-anchor="start">20</text>
<text transform="translate(1502.6 1369.83) scale(0.9709 1)" font-size="31.83" text-anchor="start">10</text>
<text transform="translate(1501.85 1481.5) scale(0.9709 1)" font-size="31.83" text-anchor="start">0</text>
<rect x="128.4" y="1893.1" width="26.1" height="80.4" fill="#fff" stroke="#000" stroke-width="2.2"/>
<rect x="155.05" y="1893.1" width="26.1" height="80.4" fill="#fff"/>
<path clip-path="url(#c13)" d="M151.05 1970.05L158.5 1977.5M151.05 1958.87L169.68 1977.5M151.05 1947.68L180.87 1977.5M151.05 1936.49L185.15 1970.6M151.05 1925.31L185.15 1959.41M151.05 1914.12L185.15 1948.23M151.05 1902.94L185.15 1937.04M151.05 1891.75L185.15 1925.86M159.58 1889.1L185.15 1914.67M170.76 1889.1L185.15 1903.49M181.95 1889.1L185.15 1892.3" stroke="#000" stroke-width="2.4" fill="none"/>
<rect x="155.05" y="1893.1" width="26.1" height="80.4" fill="none" stroke="#000" stroke-width="2.2"/>
<rect x="181.7" y="1903.7" width="26.1" height="69.8" fill="#000" stroke="#000" stroke-width="2.2"/>
<rect x="207.6" y="1749.1" width="26.85" height="224.4" fill="#000" stroke="#000" stroke-width="2.2"/>
<path clip-path="url(#c14)" d="M203.6 1969.65L211.45 1977.5M203.6 1958.46L222.63 1977.5M203.6 1947.28L233.82 1977.5M203.6 1936.09L238.45 1970.94M203.6 1924.91L238.45 1959.76M203.6 1913.72L238.45 1948.58M203.6 1902.54L238.45 1937.39M203.6 1891.35L238.45 1926.2M203.6 1880.17L238.45 1915.02M203.6 1868.98L238.45 1903.84M203.6 1857.8L238.45 1892.65M203.6 1846.61L238.45 1881.46M203.6 1835.43L238.45 1870.28M203.6 1824.24L238.45 1859.1M203.6 1813.06L238.45 1847.91M203.6 1801.87L238.45 1836.72M203.6 1790.69L238.45 1825.54M203.6 1779.5L238.45 1814.36M203.6 1768.32L238.45 1803.17M203.6 1757.13L238.45 1791.98M203.6 1745.95L238.45 1780.8M213.93 1745.1L238.45 1769.62M225.12 1745.1L238.45 1758.43M236.3 1745.1L238.45 1747.25" stroke="#fff" stroke-width="2.3" fill="none"/>
<rect x="261.2" y="1834.7" width="26.1" height="138.8" fill="#fff" stroke="#000" stroke-width="2.2"/>
<rect x="287.85" y="1818.1" width="26.1" height="155.4" fill="#fff"/>
<path clip-path="url(#c15)" d="M283.85 1970.05L291.3 1977.5M283.85 1958.87L302.48 1977.5M283.85 1947.68L313.67 1977.5M283.85 1936.49L317.95 1970.6M283.85 1925.31L317.95 1959.41M283.85 1914.12L317.95 1948.23M283.85 1902.94L317.95 1937.04M283.85 1891.76L317.95 1925.86M283.85 1880.57L317.95 1914.67M283.85 1869.39L317.95 1903.49M283.85 1858.2L317.95 1892.3M283.85 1847.01L317.95 1881.12M283.85 1835.83L317.95 1869.93M283.85 1824.64L317.95 1858.75M284.49 1814.1L317.95 1847.56M295.67 1814.1L317.95 1836.38M306.86 1814.1L317.95 1825.19" stroke="#000" stroke-width="2.4" fill="none"/>
<rect x="287.85" y="1818.1" width="26.1" height="155.4" fill="none" stroke="#000" stroke-width="2.2"/>
<rect x="314.5" y="1871.5" width="26.1" height="102" fill="#000" stroke="#000" stroke-width="2.2"/>
<rect x="340.4" y="1665.1" width="26.85" height="308.4" fill="#000" stroke="#000" stroke-width="2.2"/>
<path clip-path="url(#c16)" d="M336.4 1969.65L344.25 1977.5M336.4 1958.47L355.43 1977.5M336.4 1947.28L366.62 1977.5M336.4 1936.1L371.25 1970.94M336.4 1924.91L371.25 1959.76M336.4 1913.73L371.25 1948.58M336.4 1902.54L371.25 1937.39M336.4 1891.36L371.25 1926.2M336.4 1880.17L371.25 1915.02M336.4 1868.99L371.25 1903.84M336.4 1857.8L371.25 1892.65M336.4 1846.62L371.25 1881.46M336.4 1835.43L371.25 1870.28M336.4 1824.25L371.25 1859.1M336.4 1813.06L371.25 1847.91M336.4 1801.88L371.25 1836.72M336.4 1790.69L371.25 1825.54M336.4 1779.51L371.25 1814.36M336.4 1768.32L371.25 1803.17M336.4 1757.13L371.25 1791.98M336.4 1745.95L371.25 1780.8M336.4 1734.77L371.25 1769.62M336.4 1723.58L371.25 1758.43M336.4 1712.39L371.25 1747.24M336.4 1701.21L371.25 1736.06M336.4 1690.03L371.25 1724.88M336.4 1678.84L371.25 1713.69M336.4 1667.66L371.25 1702.51M341.03 1661.1L371.25 1691.32M352.21 1661.1L371.25 1680.13M363.4 1661.1L371.25 1668.95" stroke="#fff" stroke-width="2.3" fill="none"/>
<rect x="394.1" y="1867.5" width="26.1" height="106" fill="#fff" stroke="#000" stroke-width="2.2"/>
<rect x="420.75" y="1860.3" width="26.1" height="113.2" fill="#fff"/>
<path clip-path="url(#c17)" d="M416.75 1970.05L424.2 1977.5M416.75 1958.87L435.38 1977.5M416.75 1947.68L446.57 1977.5M416.75 1936.49L450.85 1970.59M416.75 1925.31L450.85 1959.41M416.75 1914.12L450.85 1948.22M416.75 1902.94L450.85 1937.04M416.75 1891.75L450.85 1925.86M416.75 1880.57L450.85 1914.67M416.75 1869.38L450.85 1903.49M416.75 1858.2L450.85 1892.3M426.04 1856.3L450.85 1881.11M437.22 1856.3L450.85 1869.93M448.4 1856.3L450.85 1858.74" stroke="#000" stroke-width="2.4" fill="none"/>
<rect x="420.75" y="1860.3" width="26.1" height="113.2" fill="none" stroke="#000" stroke-width="2.2"/>
<rect x="447.4" y="1888.7" width="26.1" height="84.8" fill="#000" stroke="#000" stroke-width="2.2"/>
<rect x="473.3" y="1724.3" width="26.85" height="249.2" fill="#000" stroke="#000" stroke-width="2.2"/>
<path clip-path="url(#c18)" d="M469.3 1969.65L477.15 1977.5M469.3 1958.46L488.34 1977.5M469.3 1947.28L499.52 1977.5M469.3 1936.09L504.15 1970.94M469.3 1924.91L504.15 1959.76M469.3 1913.72L504.15 1948.58M469.3 1902.54L504.15 1937.39M469.3 1891.35L504.15 1926.2M469.3 1880.17L504.15 1915.02M469.3 1868.98L504.15 1903.84M469.3 1857.8L504.15 1892.65M469.3 1846.61L504.15 1881.46M469.3 1835.43L504.15 1870.28M469.3 1824.24L504.15 1859.1M469.3 1813.06L504.15 1847.91M469.3 1801.87L504.15 1836.72M469.3 1790.69L504.15 1825.54M469.3 1779.5L504.15 1814.36M469.3 1768.32L504.15 1803.17M469.3 1757.13L504.15 1791.98M469.3 1745.95L504.15 1780.8M469.3 1734.76L504.15 1769.62M469.3 1723.58L504.15 1758.43M477.21 1720.3L504.15 1747.24M488.39 1720.3L504.15 1736.06M499.58 1720.3L504.15 1724.88" stroke="#fff" stroke-width="2.3" fill="none"/>
<rect x="527.1" y="1953.5" width="26.1" height="20" fill="#fff" stroke="#000" stroke-width="2.2"/>
<rect x="553.75" y="1955.1" width="26.1" height="18.4" fill="#fff"/>
<path clip-path="url(#c19)" d="M549.75 1970.05L557.2 1977.5M549.75 1958.87L568.38 1977.5M553.17 1951.1L579.57 1977.5M564.36 1951.1L583.85 1970.59M575.54 1951.1L583.85 1959.41" stroke="#000" stroke-width="2.4" fill="none"/>
<rect x="553.75" y="1955.1" width="26.1" height="18.4" fill="none" stroke="#000" stroke-width="2.2"/>
<rect x="580.4" y="1958.7" width="26.1" height="14.8" fill="#000" stroke="#000" stroke-width="2.2"/>
<rect x="606.3" y="1921.1" width="26.85" height="52.4" fill="#000" stroke="#000" stroke-width="2.2"/>
<path clip-path="url(#c20)" d="M602.3 1969.65L610.15 1977.5M602.3 1958.47L621.34 1977.5M602.3 1947.28L632.52 1977.5M602.3 1936.09L637.15 1970.94M602.3 1924.91L637.15 1959.76M605.67 1917.1L637.15 1948.57M616.86 1917.1L637.15 1937.39M628.05 1917.1L637.15 1926.2" stroke="#fff" stroke-width="2.3" fill="none"/>
<rect x="660.3" y="1901.9" width="26.1" height="71.6" fill="#fff" stroke="#000" stroke-width="2.2"/>
<rect x="686.95" y="1906.1" width="26.1" height="67.4" fill="#fff"/>
<path clip-path="url(#c21)" d="M682.95 1970.05L690.4 1977.5M682.95 1958.87L701.58 1977.5M682.95 1947.68L712.77 1977.5M682.95 1936.5L717.05 1970.6M682.95 1925.31L717.05 1959.41M682.95 1914.13L717.05 1948.23M682.95 1902.94L717.05 1937.04M693.29 1902.1L717.05 1925.86M704.48 1902.1L717.05 1914.67M715.66 1902.1L717.05 1903.49" stroke="#000" stroke-width="2.4" fill="none"/>
<rect x="686.95" y="1906.1" width="26.1" height="67.4" fill="none" stroke="#000" stroke-width="2.2"/>
<rect x="713.6" y="1908.5" width="26.1" height="65" fill="#000" stroke="#000" stroke-width="2.2"/>
<rect x="739.5" y="1851.1" width="26.85" height="122.4" fill="#000" stroke="#000" stroke-width="2.2"/>
<path clip-path="url(#c22)" d="M735.5 1969.65L743.35 1977.5M735.5 1958.47L754.54 1977.5M735.5 1947.28L765.72 1977.5M735.5 1936.09L770.35 1970.94M735.5 1924.91L770.35 1959.76M735.5 1913.72L770.35 1948.57M735.5 1902.54L770.35 1937.39M735.5 1891.36L770.35 1926.2M735.5 1880.17L770.35 1915.02M735.5 1868.99L770.35 1903.84M735.5 1857.8L770.35 1892.65M735.99 1847.1L770.35 1881.46M747.17 1847.1L770.35 1870.28M758.36 1847.1L770.35 1859.09M769.54 1847.1L770.35 1847.91" stroke="#fff" stroke-width="2.3" fill="none"/>
<path d="M138.45 1884.4H144.45M141.45 1884.4V1901M138.45 1901H144.45" stroke="#000" stroke-width="2" stroke-linecap="butt" fill="none"/>
<path d="M165.1 1883.6H171.1M168.1 1883.6V1901.6M165.1 1901.6H171.1" stroke="#000" stroke-width="2" stroke-linecap="butt" fill="none"/>
<path d="M191.75 1895.6H197.75M194.75 1895.6V1903.6" stroke="#000" stroke-width="2" stroke-linecap="butt" fill="none"/>
<path d="M218.4 1741H224.4M221.4 1741V1755M218.4 1755H224.4" stroke="#000" stroke-width="2" stroke-linecap="butt" fill="none"/>
<path d="M271.25 1809.6H277.25M274.25 1809.6V1860M271.25 1860H277.25" stroke="#000" stroke-width="2" stroke-linecap="butt" fill="none"/>
<path d="M297.9 1790H303.9M300.9 1790V1844.4M297.9 1844.4H303.9" stroke="#000" stroke-width="2" stroke-linecap="butt" fill="none"/>
<path d="M324.55 1846.6H330.55M327.55 1846.6V1871.4" stroke="#000" stroke-width="2" stroke-linecap="butt" fill="none"/>
<path d="M351.2 1640.6H357.2M354.2 1640.6V1686M351.2 1686H357.2" stroke="#000" stroke-width="2" stroke-linecap="butt" fill="none"/>
<path d="M404.15 1851.4H410.15M407.15 1851.4V1883.2M404.15 1883.2H410.15" stroke="#000" stroke-width="2" stroke-linecap="butt" fill="none"/>
<path d="M430.8 1842.2H436.8M433.8 1842.2V1877M430.8 1877H436.8" stroke="#000" stroke-width="2" stroke-linecap="butt" fill="none"/>
<path d="M457.45 1872.4H463.45M460.45 1872.4V1888.6" stroke="#000" stroke-width="2" stroke-linecap="butt" fill="none"/>
<path d="M484.1 1708.2H490.1M487.1 1708.2V1739M484.1 1739H490.1" stroke="#000" stroke-width="2" stroke-linecap="butt" fill="none"/>
<path d="M537.15 1950H543.15M540.15 1950V1956.4M537.15 1956.4H543.15" stroke="#000" stroke-width="2" stroke-linecap="butt" fill="none"/>
<path d="M563.8 1951.6H569.8M566.8 1951.6V1957M563.8 1957H569.8" stroke="#000" stroke-width="2" stroke-linecap="butt" fill="none"/>
<path d="M590.45 1955H596.45M593.45 1955V1958.6" stroke="#000" stroke-width="2" stroke-linecap="butt" fill="none"/>
<path d="M617.1 1917.6H623.1M620.1 1917.6V1922.5M617.1 1922.5H623.1" stroke="#000" stroke-width="2" stroke-linecap="butt" fill="none"/>
<path d="M670.35 1896.4H676.35M673.35 1896.4V1907M670.35 1907H676.35" stroke="#000" stroke-width="2" stroke-linecap="butt" fill="none"/>
<path d="M697 1900.2H703M700 1900.2V1911M697 1911H703" stroke="#000" stroke-width="2" stroke-linecap="butt" fill="none"/>
<path d="M723.65 1903.4H729.65M726.65 1903.4V1908.4" stroke="#000" stroke-width="2" stroke-linecap="butt" fill="none"/>
<path d="M750.3 1845.6H756.3M753.3 1845.6V1854.4M750.3 1854.4H756.3" stroke="#000" stroke-width="2" stroke-linecap="butt" fill="none"/>
<rect x="826.5" y="1850.1" width="26.1" height="127.9" fill="#fff" stroke="#000" stroke-width="2.2"/>
<rect x="853.15" y="1851.5" width="26.1" height="126.5" fill="#fff"/>
<path clip-path="url(#c23)" d="M849.15 1974.55L856.6 1982M849.15 1963.37L867.78 1982M849.15 1952.18L878.97 1982M849.15 1940.99L883.25 1975.09M849.15 1929.81L883.25 1963.91M849.15 1918.62L883.25 1952.72M849.15 1907.44L883.25 1941.54M849.15 1896.26L883.25 1930.36M849.15 1885.07L883.25 1919.17M849.15 1873.89L883.25 1907.99M849.15 1862.7L883.25 1896.8M849.15 1851.52L883.25 1885.62M856.32 1847.5L883.25 1874.43M867.5 1847.5L883.25 1863.24M878.69 1847.5L883.25 1852.06" stroke="#000" stroke-width="2.4" fill="none"/>
<rect x="853.15" y="1851.5" width="26.1" height="126.5" fill="none" stroke="#000" stroke-width="2.2"/>
<rect x="879.8" y="1849.5" width="26.1" height="128.5" fill="#000" stroke="#000" stroke-width="2.2"/>
<rect x="906.15" y="1697.7" width="26.4" height="280.3" fill="#000" stroke="#000" stroke-width="2.2"/>
<path clip-path="url(#c24)" d="M902.15 1974.15L910 1982M902.15 1962.97L921.18 1982M902.15 1951.78L932.37 1982M902.15 1940.59L936.55 1974.99M902.15 1929.41L936.55 1963.81M902.15 1918.22L936.55 1952.62M902.15 1907.04L936.55 1941.44M902.15 1895.86L936.55 1930.25M902.15 1884.67L936.55 1919.07M902.15 1873.49L936.55 1907.88M902.15 1862.3L936.55 1896.7M902.15 1851.12L936.55 1885.51M902.15 1839.93L936.55 1874.33M902.15 1828.74L936.55 1863.14M902.15 1817.56L936.55 1851.96M902.15 1806.38L936.55 1840.77M902.15 1795.19L936.55 1829.59M902.15 1784.01L936.55 1818.4M902.15 1772.82L936.55 1807.22M902.15 1761.63L936.55 1796.03M902.15 1750.45L936.55 1784.85M902.15 1739.26L936.55 1773.66M902.15 1728.08L936.55 1762.48M902.15 1716.89L936.55 1751.29M902.15 1705.71L936.55 1740.11M902.15 1694.53L936.55 1728.92M912.51 1693.7L936.55 1717.74M923.69 1693.7L936.55 1706.55M934.88 1693.7L936.55 1695.37" stroke="#fff" stroke-width="2.3" fill="none"/>
<rect x="959.45" y="1720.7" width="26.1" height="257.3" fill="#fff" stroke="#000" stroke-width="2.2"/>
<rect x="986.1" y="1742.5" width="26.1" height="235.5" fill="#fff"/>
<path clip-path="url(#c25)" d="M982.1 1974.55L989.55 1982M982.1 1963.37L1000.73 1982M982.1 1952.18L1011.92 1982M982.1 1941L1016.2 1975.1M982.1 1929.81L1016.2 1963.91M982.1 1918.62L1016.2 1952.72M982.1 1907.44L1016.2 1941.54M982.1 1896.26L1016.2 1930.36M982.1 1885.07L1016.2 1919.17M982.1 1873.89L1016.2 1907.99M982.1 1862.7L1016.2 1896.8M982.1 1851.52L1016.2 1885.62M982.1 1840.33L1016.2 1874.43M982.1 1829.14L1016.2 1863.24M982.1 1817.96L1016.2 1852.06M982.1 1806.78L1016.2 1840.88M982.1 1795.59L1016.2 1829.69M982.1 1784.41L1016.2 1818.51M982.1 1773.22L1016.2 1807.32M982.1 1762.04L1016.2 1796.13M982.1 1750.85L1016.2 1784.95M982.1 1739.66L1016.2 1773.76M992.12 1738.5L1016.2 1762.58M1003.3 1738.5L1016.2 1751.39M1014.49 1738.5L1016.2 1740.21" stroke="#000" stroke-width="2.4" fill="none"/>
<rect x="986.1" y="1742.5" width="26.1" height="235.5" fill="none" stroke="#000" stroke-width="2.2"/>
<rect x="1012.75" y="1739.7" width="26.1" height="238.3" fill="#000" stroke="#000" stroke-width="2.2"/>
<rect x="1039.1" y="1627.7" width="26.4" height="350.3" fill="#000" stroke="#000" stroke-width="2.2"/>
<path clip-path="url(#c26)" d="M1035.1 1974.15L1042.95 1982M1035.1 1962.96L1054.13 1982M1035.1 1951.78L1065.32 1982M1035.1 1940.59L1069.5 1974.99M1035.1 1929.41L1069.5 1963.81M1035.1 1918.22L1069.5 1952.62M1035.1 1907.04L1069.5 1941.44M1035.1 1895.86L1069.5 1930.25M1035.1 1884.67L1069.5 1919.07M1035.1 1873.48L1069.5 1907.88M1035.1 1862.3L1069.5 1896.7M1035.1 1851.11L1069.5 1885.51M1035.1 1839.93L1069.5 1874.33M1035.1 1828.74L1069.5 1863.14M1035.1 1817.56L1069.5 1851.96M1035.1 1806.38L1069.5 1840.77M1035.1 1795.19L1069.5 1829.59M1035.1 1784L1069.5 1818.4M1035.1 1772.82L1069.5 1807.22M1035.1 1761.63L1069.5 1796.03M1035.1 1750.45L1069.5 1784.85M1035.1 1739.26L1069.5 1773.66M1035.1 1728.08L1069.5 1762.48M1035.1 1716.89L1069.5 1751.29M1035.1 1705.71L1069.5 1740.11M1035.1 1694.52L1069.5 1728.92M1035.1 1683.34L1069.5 1717.74M1035.1 1672.15L1069.5 1706.55M1035.1 1660.97L1069.5 1695.37M1035.1 1649.78L1069.5 1684.18M1035.1 1638.6L1069.5 1673M1035.1 1627.41L1069.5 1661.81M1042.57 1623.7L1069.5 1650.63M1053.75 1623.7L1069.5 1639.44M1064.94 1623.7L1069.5 1628.26" stroke="#fff" stroke-width="2.3" fill="none"/>
<rect x="1092.4" y="1806.7" width="26.1" height="171.3" fill="#fff" stroke="#000" stroke-width="2.2"/>
<rect x="1119.05" y="1817.1" width="26.1" height="160.9" fill="#fff"/>
<path clip-path="url(#c27)" d="M1115.05 1974.55L1122.5 1982M1115.05 1963.37L1133.68 1982M1115.05 1952.18L1144.87 1982M1115.05 1940.99L1149.15 1975.1M1115.05 1929.81L1149.15 1963.91M1115.05 1918.62L1149.15 1952.72M1115.05 1907.44L1149.15 1941.54M1115.05 1896.25L1149.15 1930.35M1115.05 1885.07L1149.15 1919.17M1115.05 1873.88L1149.15 1907.98M1115.05 1862.7L1149.15 1896.8M1115.05 1851.52L1149.15 1885.62M1115.05 1840.33L1149.15 1874.43M1115.05 1829.14L1149.15 1863.24M1115.05 1817.96L1149.15 1852.06M1121.38 1813.1L1149.15 1840.87M1132.56 1813.1L1149.15 1829.69M1143.74 1813.1L1149.15 1818.5" stroke="#000" stroke-width="2.4" fill="none"/>
<rect x="1119.05" y="1817.1" width="26.1" height="160.9" fill="none" stroke="#000" stroke-width="2.2"/>
<rect x="1145.7" y="1808.5" width="26.1" height="169.5" fill="#000" stroke="#000" stroke-width="2.2"/>
<rect x="1172.05" y="1665.1" width="26.4" height="312.9" fill="#000" stroke="#000" stroke-width="2.2"/>
<path clip-path="url(#c28)" d="M1168.05 1974.15L1175.9 1982M1168.05 1962.96L1187.09 1982M1168.05 1951.78L1198.27 1982M1168.05 1940.59L1202.45 1974.99M1168.05 1929.41L1202.45 1963.81M1168.05 1918.22L1202.45 1952.62M1168.05 1907.04L1202.45 1941.44M1168.05 1895.86L1202.45 1930.25M1168.05 1884.67L1202.45 1919.07M1168.05 1873.48L1202.45 1907.88M1168.05 1862.3L1202.45 1896.7M1168.05 1851.11L1202.45 1885.51M1168.05 1839.93L1202.45 1874.33M1168.05 1828.74L1202.45 1863.14M1168.05 1817.56L1202.45 1851.96M1168.05 1806.38L1202.45 1840.77M1168.05 1795.19L1202.45 1829.59M1168.05 1784L1202.45 1818.4M1168.05 1772.82L1202.45 1807.22M1168.05 1761.63L1202.45 1796.03M1168.05 1750.45L1202.45 1784.85M1168.05 1739.26L1202.45 1773.66M1168.05 1728.08L1202.45 1762.48M1168.05 1716.89L1202.45 1751.29M1168.05 1705.71L1202.45 1740.11M1168.05 1694.52L1202.45 1728.92M1168.05 1683.34L1202.45 1717.74M1168.05 1672.15L1202.45 1706.55M1168.18 1661.1L1202.45 1695.37M1179.37 1661.1L1202.45 1684.18M1190.55 1661.1L1202.45 1673M1201.74 1661.1L1202.45 1661.81" stroke="#fff" stroke-width="2.3" fill="none"/>
<rect x="1225.35" y="1949.7" width="26.1" height="28.3" fill="#fff" stroke="#000" stroke-width="2.2"/>
<rect x="1252" y="1952.1" width="26.1" height="25.9" fill="#fff"/>
<path clip-path="url(#c29)" d="M1248 1974.55L1255.45 1982M1248 1963.37L1266.63 1982M1248 1952.18L1277.82 1982M1255.11 1948.1L1282.1 1975.09M1266.29 1948.1L1282.1 1963.91M1277.47 1948.1L1282.1 1952.72" stroke="#000" stroke-width="2.4" fill="none"/>
<rect x="1252" y="1952.1" width="26.1" height="25.9" fill="none" stroke="#000" stroke-width="2.2"/>
<rect x="1278.65" y="1950.7" width="26.1" height="27.3" fill="#000" stroke="#000" stroke-width="2.2"/>
<rect x="1305" y="1912.1" width="26.4" height="65.9" fill="#000" stroke="#000" stroke-width="2.2"/>
<path clip-path="url(#c30)" d="M1301 1974.15L1308.85 1982M1301 1962.96L1320.04 1982M1301 1951.78L1331.22 1982M1301 1940.59L1335.4 1974.99M1301 1929.41L1335.4 1963.81M1301 1918.22L1335.4 1952.62M1302.06 1908.1L1335.4 1941.44M1313.24 1908.1L1335.4 1930.25M1324.43 1908.1L1335.4 1919.07" stroke="#fff" stroke-width="2.3" fill="none"/>
<rect x="1358.3" y="1901.5" width="26.1" height="76.5" fill="#fff" stroke="#000" stroke-width="2.2"/>
<rect x="1384.95" y="1905.5" width="26.1" height="72.5" fill="#fff"/>
<path clip-path="url(#c31)" d="M1380.95 1974.55L1388.4 1982M1380.95 1963.37L1399.58 1982M1380.95 1952.18L1410.77 1982M1380.95 1940.99L1415.05 1975.09M1380.95 1929.81L1415.05 1963.91M1380.95 1918.62L1415.05 1952.72M1380.95 1907.44L1415.05 1941.54M1386.19 1901.5L1415.05 1930.36M1397.38 1901.5L1415.05 1919.17M1408.56 1901.5L1415.05 1907.98" stroke="#000" stroke-width="2.4" fill="none"/>
<rect x="1384.95" y="1905.5" width="26.1" height="72.5" fill="none" stroke="#000" stroke-width="2.2"/>
<rect x="1411.6" y="1902.5" width="26.1" height="75.5" fill="#000" stroke="#000" stroke-width="2.2"/>
<rect x="1437.95" y="1816.1" width="26.4" height="161.9" fill="#000" stroke="#000" stroke-width="2.2"/>
<path clip-path="url(#c32)" d="M1433.95 1974.15L1441.8 1982M1433.95 1962.96L1452.98 1982M1433.95 1951.78L1464.17 1982M1433.95 1940.59L1468.35 1974.99M1433.95 1929.41L1468.35 1963.81M1433.95 1918.22L1468.35 1952.62M1433.95 1907.04L1468.35 1941.44M1433.95 1895.85L1468.35 1930.25M1433.95 1884.67L1468.35 1919.07M1433.95 1873.48L1468.35 1907.88M1433.95 1862.3L1468.35 1896.7M1433.95 1851.11L1468.35 1885.51M1433.95 1839.93L1468.35 1874.33M1433.95 1828.74L1468.35 1863.14M1433.95 1817.56L1468.35 1851.96M1439.67 1812.1L1468.35 1840.77M1450.86 1812.1L1468.35 1829.59M1462.04 1812.1L1468.35 1818.4" stroke="#fff" stroke-width="2.3" fill="none"/>
<path d="M836.55 1843H842.55M839.55 1843V1858M836.55 1858H842.55" stroke="#000" stroke-width="2" stroke-linecap="butt" fill="none"/>
<path d="M863.2 1844.2H869.2M866.2 1844.2V1858M863.2 1858H869.2" stroke="#000" stroke-width="2" stroke-linecap="butt" fill="none"/>
<path d="M889.85 1842.4H895.85M892.85 1842.4V1849.4" stroke="#000" stroke-width="2" stroke-linecap="butt" fill="none"/>
<path d="M916.5 1690.6H922.5M919.5 1690.6V1702M916.5 1702H922.5" stroke="#000" stroke-width="2" stroke-linecap="butt" fill="none"/>
<path d="M969.5 1702.2H975.5M972.5 1702.2V1739M969.5 1739H975.5" stroke="#000" stroke-width="2" stroke-linecap="butt" fill="none"/>
<path d="M996.15 1724H1002.15M999.15 1724V1760M996.15 1760H1002.15" stroke="#000" stroke-width="2" stroke-linecap="butt" fill="none"/>
<path d="M1022.8 1722H1028.8M1025.8 1722V1739.6" stroke="#000" stroke-width="2" stroke-linecap="butt" fill="none"/>
<path d="M1049.45 1610.6H1055.45M1052.45 1610.6V1643M1049.45 1643H1055.45" stroke="#000" stroke-width="2" stroke-linecap="butt" fill="none"/>
<path d="M1102.45 1793.4H1108.45M1105.45 1793.4V1820M1102.45 1820H1108.45" stroke="#000" stroke-width="2" stroke-linecap="butt" fill="none"/>
<path d="M1129.1 1804H1135.1M1132.1 1804V1829M1129.1 1829H1135.1" stroke="#000" stroke-width="2" stroke-linecap="butt" fill="none"/>
<path d="M1155.75 1795.4H1161.75M1158.75 1795.4V1808.4" stroke="#000" stroke-width="2" stroke-linecap="butt" fill="none"/>
<path d="M1182.4 1652.4H1188.4M1185.4 1652.4V1676M1182.4 1676H1188.4" stroke="#000" stroke-width="2" stroke-linecap="butt" fill="none"/>
<path d="M1235.4 1947H1241.4M1238.4 1947V1951.6M1235.4 1951.6H1241.4" stroke="#000" stroke-width="2" stroke-linecap="butt" fill="none"/>
<path d="M1262.05 1949.6H1268.05M1265.05 1949.6V1953.6M1262.05 1953.6H1268.05" stroke="#000" stroke-width="2" stroke-linecap="butt" fill="none"/>
<path d="M1288.7 1948H1294.7M1291.7 1948V1950.6" stroke="#000" stroke-width="2" stroke-linecap="butt" fill="none"/>
<path d="M1315.35 1910H1321.35M1318.35 1910V1912.5M1315.35 1912.5H1321.35" stroke="#000" stroke-width="2" stroke-linecap="butt" fill="none"/>
<path d="M1368.35 1897H1374.35M1371.35 1897V1905.6M1368.35 1905.6H1374.35" stroke="#000" stroke-width="2" stroke-linecap="butt" fill="none"/>
<path d="M1395 1901H1401M1398 1901V1908.6M1395 1908.6H1401" stroke="#000" stroke-width="2" stroke-linecap="butt" fill="none"/>
<path d="M1421.65 1898.4H1427.65M1424.65 1898.4V1902.4" stroke="#000" stroke-width="2" stroke-linecap="butt" fill="none"/>
<path d="M1448.3 1812H1454.3M1451.3 1812V1819M1448.3 1819H1454.3" stroke="#000" stroke-width="2" stroke-linecap="butt" fill="none"/>
<line x1="107.85" y1="1973.5" x2="779.1" y2="1973.5" stroke="#000" stroke-width="2.4" stroke-linecap="round"/>
<line x1="806.4" y1="1978" x2="1477.9" y2="1978" stroke="#000" stroke-width="2.4" stroke-linecap="round"/>
<line x1="107.85" y1="1525.8" x2="107.85" y2="1973.5" stroke="#000" stroke-width="2.4" stroke-linecap="square"/>
<line x1="109.05" y1="1525.8" x2="119.85" y2="1525.8" stroke="#000" stroke-width="2.4" stroke-linecap="round"/>
<line x1="109.05" y1="1548.18" x2="113.85" y2="1548.18" stroke="#000" stroke-width="2.4" stroke-linecap="round"/>
<line x1="109.05" y1="1570.57" x2="113.85" y2="1570.57" stroke="#000" stroke-width="2.4" stroke-linecap="round"/>
<line x1="109.05" y1="1592.95" x2="113.85" y2="1592.95" stroke="#000" stroke-width="2.4" stroke-linecap="round"/>
<line x1="109.05" y1="1615.34" x2="113.85" y2="1615.34" stroke="#000" stroke-width="2.4" stroke-linecap="round"/>
<line x1="109.05" y1="1637.72" x2="119.85" y2="1637.72" stroke="#000" stroke-width="2.4" stroke-linecap="round"/>
<line x1="109.05" y1="1660.11" x2="113.85" y2="1660.11" stroke="#000" stroke-width="2.4" stroke-linecap="round"/>
<line x1="109.05" y1="1682.49" x2="113.85" y2="1682.49" stroke="#000" stroke-width="2.4" stroke-linecap="round"/>
<line x1="109.05" y1="1704.88" x2="113.85" y2="1704.88" stroke="#000" stroke-width="2.4" stroke-linecap="round"/>
<line x1="109.05" y1="1727.26" x2="113.85" y2="1727.26" stroke="#000" stroke-width="2.4" stroke-linecap="round"/>
<line x1="109.05" y1="1749.65" x2="119.85" y2="1749.65" stroke="#000" stroke-width="2.4" stroke-linecap="round"/>
<line x1="109.05" y1="1772.04" x2="113.85" y2="1772.04" stroke="#000" stroke-width="2.4" stroke-linecap="round"/>
<line x1="109.05" y1="1794.42" x2="113.85" y2="1794.42" stroke="#000" stroke-width="2.4" stroke-linecap="round"/>
<line x1="109.05" y1="1816.8" x2="113.85" y2="1816.8" stroke="#000" stroke-width="2.4" stroke-linecap="round"/>
<line x1="109.05" y1="1839.19" x2="113.85" y2="1839.19" stroke="#000" stroke-width="2.4" stroke-linecap="round"/>
<line x1="109.05" y1="1861.58" x2="119.85" y2="1861.58" stroke="#000" stroke-width="2.4" stroke-linecap="round"/>
<line x1="109.05" y1="1883.96" x2="113.85" y2="1883.96" stroke="#000" stroke-width="2.4" stroke-linecap="round"/>
<line x1="109.05" y1="1906.35" x2="113.85" y2="1906.35" stroke="#000" stroke-width="2.4" stroke-linecap="round"/>
<line x1="109.05" y1="1928.73" x2="113.85" y2="1928.73" stroke="#000" stroke-width="2.4" stroke-linecap="round"/>
<line x1="109.05" y1="1951.12" x2="113.85" y2="1951.12" stroke="#000" stroke-width="2.4" stroke-linecap="round"/>
<text transform="translate(101.2 1537.6) scale(0.9709 1)" font-size="31.83" text-anchor="end">10.0</text>
<text transform="translate(101.2 1649.32) scale(0.9709 1)" font-size="31.83" text-anchor="end">7.5</text>
<text transform="translate(101.2 1761.25) scale(0.9709 1)" font-size="31.83" text-anchor="end">5.0</text>
<text transform="translate(101.2 1873.17) scale(0.9709 1)" font-size="31.83" text-anchor="end">2.5</text>
<text transform="translate(101.2 1982.7) scale(0.9709 1)" font-size="31.83" text-anchor="end">0.0</text>
<line x1="806.4" y1="1530.3" x2="806.4" y2="1978" stroke="#000" stroke-width="2.4" stroke-linecap="square"/>
<line x1="807.6" y1="1530.3" x2="817.9" y2="1530.3" stroke="#000" stroke-width="2.4" stroke-linecap="round"/>
<line x1="807.6" y1="1552.68" x2="812" y2="1552.68" stroke="#000" stroke-width="2.4" stroke-linecap="round"/>
<line x1="807.6" y1="1575.07" x2="812" y2="1575.07" stroke="#000" stroke-width="2.4" stroke-linecap="round"/>
<line x1="807.6" y1="1597.45" x2="812" y2="1597.45" stroke="#000" stroke-width="2.4" stroke-linecap="round"/>
<line x1="807.6" y1="1619.84" x2="812" y2="1619.84" stroke="#000" stroke-width="2.4" stroke-linecap="round"/>
<line x1="807.6" y1="1642.22" x2="817.9" y2="1642.22" stroke="#000" stroke-width="2.4" stroke-linecap="round"/>
<line x1="807.6" y1="1664.61" x2="812" y2="1664.61" stroke="#000" stroke-width="2.4" stroke-linecap="round"/>
<line x1="807.6" y1="1686.99" x2="812" y2="1686.99" stroke="#000" stroke-width="2.4" stroke-linecap="round"/>
<line x1="807.6" y1="1709.38" x2="812" y2="1709.38" stroke="#000" stroke-width="2.4" stroke-linecap="round"/>
<line x1="807.6" y1="1731.76" x2="812" y2="1731.76" stroke="#000" stroke-width="2.4" stroke-linecap="round"/>
<line x1="807.6" y1="1754.15" x2="817.9" y2="1754.15" stroke="#000" stroke-width="2.4" stroke-linecap="round"/>
<line x1="807.6" y1="1776.54" x2="812" y2="1776.54" stroke="#000" stroke-width="2.4" stroke-linecap="round"/>
<line x1="807.6" y1="1798.92" x2="812" y2="1798.92" stroke="#000" stroke-width="2.4" stroke-linecap="round"/>
<line x1="807.6" y1="1821.3" x2="812" y2="1821.3" stroke="#000" stroke-width="2.4" stroke-linecap="round"/>
<line x1="807.6" y1="1843.69" x2="812" y2="1843.69" stroke="#000" stroke-width="2.4" stroke-linecap="round"/>
<line x1="807.6" y1="1866.08" x2="817.9" y2="1866.08" stroke="#000" stroke-width="2.4" stroke-linecap="round"/>
<line x1="807.6" y1="1888.46" x2="812" y2="1888.46" stroke="#000" stroke-width="2.4" stroke-linecap="round"/>
<line x1="807.6" y1="1910.85" x2="812" y2="1910.85" stroke="#000" stroke-width="2.4" stroke-linecap="round"/>
<line x1="807.6" y1="1933.23" x2="812" y2="1933.23" stroke="#000" stroke-width="2.4" stroke-linecap="round"/>
<line x1="807.6" y1="1955.62" x2="812" y2="1955.62" stroke="#000" stroke-width="2.4" stroke-linecap="round"/>
<text transform="translate(250 39.05) scale(0.9709 1)" font-size="36.26" text-anchor="start" font-weight="bold">Substrate (40,000 cm<tspan font-size="26.78" dy="-17.8">2</tspan><tspan dy="17.8" dx="0.6">)</tspan></text>
<text transform="translate(1004.5 39.05) scale(0.9709 1)" font-size="36.26" text-anchor="start" font-weight="bold">Soil (4,000 cm<tspan font-size="26.78" dy="-17.8">3</tspan><tspan dy="17.8" dx="0.6">)</tspan></text>
<text transform="translate(28.2 252.2) rotate(-90) scale(0.9709 1)" font-size="35.54" text-anchor="middle" font-weight="bold">Abundance (number)</text>
<text transform="translate(28.2 750.2) rotate(-90) scale(0.9709 1)" font-size="35.54" text-anchor="middle" font-weight="bold">Incidence index</text>
<text transform="translate(28.2 1248.2) rotate(-90) scale(0.9709 1)" font-size="35.54" text-anchor="middle" font-weight="bold">Tunneling (cm)</text>
<text transform="translate(26.5 1750.7) rotate(-90) scale(0.9709 1)" font-size="35.54" text-anchor="middle" font-weight="bold">Diversity measure</text>
<text transform="translate(1567.2 1247.6) rotate(90) scale(0.9709 1)" font-size="35.54" text-anchor="middle" font-weight="bold">Galleries (poked holes)</text>
<text transform="translate(171.7 2014.3) scale(0.9709 1)" font-size="30.28" text-anchor="middle">S</text>
<text transform="translate(309 2014.3) scale(0.9709 1)" font-size="30.28" text-anchor="middle">ICE</text>
<text transform="translate(441.6 2014.3) scale(0.9709 1)" font-size="30.28" text-anchor="middle">Chao2</text>
<text transform="translate(577 2014.3) scale(0.9709 1)" font-size="30.28" text-anchor="middle">S<tspan font-size="22.04" dy="7">h</tspan></text>
<text transform="translate(708.7 2014.3) scale(0.9709 1)" font-size="30.28" text-anchor="middle">S<tspan font-size="22.04" dy="7">i</tspan></text>
<text transform="translate(870.4 2017.5) scale(0.9709 1)" font-size="30.28" text-anchor="middle">S</text>
<text transform="translate(1007.7 2017.5) scale(0.9709 1)" font-size="30.28" text-anchor="middle">ICE</text>
<text transform="translate(1139.5 2017.5) scale(0.9709 1)" font-size="30.28" text-anchor="middle">Chao2</text>
<text transform="translate(1275.7 2017.5) scale(0.9709 1)" font-size="30.28" text-anchor="middle">S<tspan font-size="22.04" dy="7">h</tspan></text>
<text transform="translate(1406.9 2017.5) scale(0.9709 1)" font-size="30.28" text-anchor="middle">S<tspan font-size="22.04" dy="7">i</tspan></text>
<text transform="translate(792.3 2065.8) scale(0.9709 1)" font-size="35.54" text-anchor="middle" font-weight="bold">Farming systems</text>
<rect x="267.3" y="2101.3" width="44.7" height="22" fill="#fff" stroke="#000" stroke-width="2.2"/>
<text transform="translate(337.8 2123.7) scale(0.9434 1)" font-size="36.04" text-anchor="start">Conv-Low</text>
<rect x="562.9" y="2101.1" width="45" height="22.4" fill="#fff"/>
<path clip-path="url(#c33)" d="M558.9 2120.05L566.35 2127.5M558.9 2108.87L577.53 2127.5M558.9 2097.68L588.72 2127.5M569.5 2097.1L599.9 2127.5M580.69 2097.1L611.09 2127.5M591.87 2097.1L611.9 2117.12M603.06 2097.1L611.9 2105.94" stroke="#000" stroke-width="2.4" fill="none"/>
<rect x="562.9" y="2101.1" width="45" height="22.4" fill="none" stroke="#000" stroke-width="2.2"/>
<text transform="translate(633.7 2123.7) scale(0.9434 1)" font-size="36.04" text-anchor="start">Org-Low</text>
<rect x="837.6" y="2099.7" width="45.4" height="22.6" fill="#000" stroke="#000" stroke-width="2.2"/>
<text transform="translate(908.3 2123.7) scale(0.9434 1)" font-size="36.04" text-anchor="start">Conv-High</text>
<rect x="1142.5" y="2099.7" width="44.7" height="22.6" fill="#000" stroke="#000" stroke-width="2.2"/>
<path clip-path="url(#c34)" d="M1138.5 2118.45L1146.35 2126.3M1138.5 2107.27L1157.54 2126.3M1138.5 2096.08L1168.72 2126.3M1149.3 2095.7L1179.91 2126.3M1160.49 2095.7L1191.09 2126.3M1171.67 2095.7L1191.2 2115.22M1182.86 2095.7L1191.2 2104.04" stroke="#fff" stroke-width="2.3" fill="none"/>
<text transform="translate(1213 2123.7) scale(0.9434 1)" font-size="36.04" text-anchor="start">Org-High</text>
</svg>
</body>
</html>
